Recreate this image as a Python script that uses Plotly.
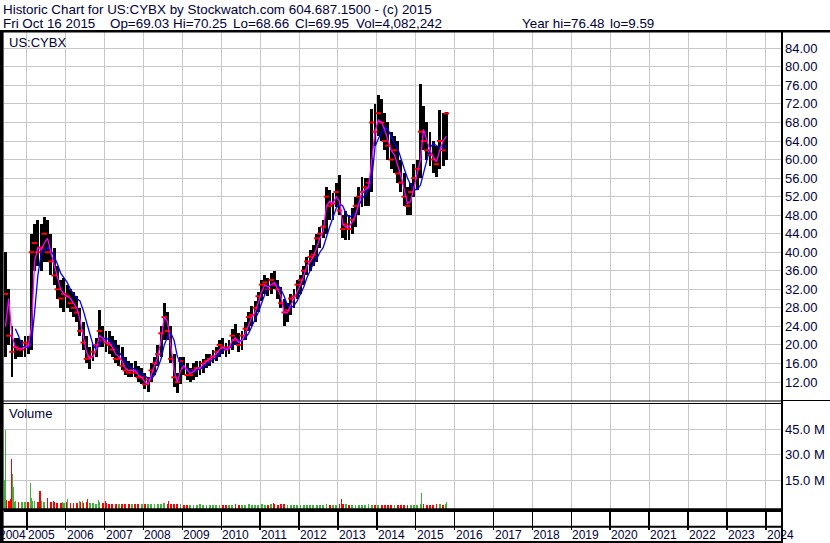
import plotly.graph_objects as go
import pandas as pd

# ---------------- data (monthly resolution) ----------------
MONTHS = [
    "2004-06", "2004-07", "2004-08", "2004-09", "2004-10", "2004-11", "2004-12",
    "2005-01", "2005-02", "2005-03", "2005-04", "2005-05", "2005-06", "2005-07", "2005-08", "2005-09", "2005-10", "2005-11", "2005-12",
    "2006-01", "2006-02", "2006-03", "2006-04", "2006-05", "2006-06", "2006-07", "2006-08", "2006-09", "2006-10", "2006-11", "2006-12",
    "2007-01", "2007-02", "2007-03", "2007-04", "2007-05", "2007-06", "2007-07", "2007-08", "2007-09", "2007-10", "2007-11", "2007-12",
    "2008-01", "2008-02", "2008-03", "2008-04", "2008-05", "2008-06", "2008-07", "2008-08", "2008-09", "2008-10", "2008-11", "2008-12",
    "2009-01", "2009-02", "2009-03", "2009-04", "2009-05", "2009-06", "2009-07", "2009-08", "2009-09", "2009-10", "2009-11", "2009-12",
    "2010-01", "2010-02", "2010-03", "2010-04", "2010-05", "2010-06", "2010-07", "2010-08", "2010-09", "2010-10", "2010-11", "2010-12",
    "2011-01", "2011-02", "2011-03", "2011-04", "2011-05", "2011-06", "2011-07", "2011-08", "2011-09", "2011-10", "2011-11", "2011-12",
    "2012-01", "2012-02", "2012-03", "2012-04", "2012-05", "2012-06", "2012-07", "2012-08", "2012-09", "2012-10", "2012-11", "2012-12",
    "2013-01", "2013-02", "2013-03", "2013-04", "2013-05", "2013-06", "2013-07", "2013-08", "2013-09", "2013-10", "2013-11", "2013-12",
    "2014-01", "2014-02", "2014-03", "2014-04", "2014-05", "2014-06", "2014-07", "2014-08", "2014-09", "2014-10", "2014-11", "2014-12",
    "2015-01", "2015-02", "2015-03", "2015-04", "2015-05", "2015-06", "2015-07", "2015-08", "2015-09", "2015-10",
]

HIGH = [
    40.0, 32.0, 24.0, 21.5, 21.5, 21.0, 22.0,
    22.0, 44.0, 46.0, 47.0, 46.0, 47.7, 47.0, 44.0, 41.0, 37.0, 34.0, 34.5,
    33.0, 32.0, 31.5, 30.5, 28.0, 25.0, 22.0, 19.5, 20.0, 21.5, 27.5, 24.0,
    23.0, 23.0, 22.0, 21.0, 20.0, 19.5, 17.5, 16.5, 16.0, 16.5, 15.5, 15.0,
    14.0, 13.0, 16.0, 17.5, 20.0, 24.0, 29.0, 27.0, 24.0, 18.0, 14.0, 17.5,
    17.5, 16.0, 15.0, 16.0, 16.5, 16.5, 17.0, 18.0, 18.0, 19.0, 19.5, 21.0,
    21.5, 20.5, 21.0, 23.5, 24.5, 22.5, 23.0, 25.0, 27.0, 28.5, 29.5, 31.5,
    34.0, 35.0, 34.5, 35.5, 36.0, 34.0, 32.5, 30.0, 29.0, 31.0, 32.0, 34.0,
    35.0, 37.0, 39.0, 40.5, 41.5, 44.0, 45.5, 47.0, 54.0, 53.4, 52.7, 55.0,
    56.7, 48.0, 49.0, 48.0, 49.5, 52.0, 54.0, 56.3, 56.0, 56.0, 71.0, 72.0,
    73.9, 73.0, 70.0, 68.0, 66.0, 65.0, 64.0, 60.0, 57.0, 54.0, 55.0, 59.0,
    60.0, 76.4, 71.5, 68.0, 66.0, 64.0, 63.0, 70.7, 70.0, 70.25,
]

LOW = [
    17.5, 20.0, 13.0, 17.0, 17.5, 17.5, 17.5,
    18.0, 19.0, 36.0, 37.0, 36.0, 38.0, 38.0, 35.0, 33.0, 30.0, 28.0, 27.0,
    28.0, 27.0, 26.0, 25.0, 22.0, 19.0, 16.0, 14.9, 16.5, 17.5, 19.5, 19.5,
    18.5, 18.0, 17.5, 16.0, 15.5, 14.5, 13.5, 13.0, 13.0, 13.0, 12.0, 11.5,
    10.5, 9.8, 12.0, 13.5, 15.5, 17.5, 21.0, 21.0, 16.0, 11.0, 9.6, 11.5,
    13.5, 12.5, 12.0, 12.5, 13.0, 13.5, 14.0, 15.0, 15.5, 16.0, 16.5, 17.5,
    18.0, 17.5, 18.0, 19.0, 20.0, 18.5, 19.0, 21.0, 23.0, 24.0, 25.0, 27.0,
    29.5, 31.0, 30.5, 31.0, 32.0, 30.0, 28.0, 24.0, 25.0, 26.5, 28.0, 30.0,
    31.0, 33.0, 35.0, 36.0, 37.0, 38.0, 41.0, 43.0, 44.0, 47.0, 47.0, 49.8,
    48.0, 43.0, 42.6, 42.6, 44.0, 45.5, 48.0, 49.8, 50.0, 50.0, 53.0, 63.0,
    65.0, 64.0, 62.0, 60.0, 58.0, 57.0, 55.0, 53.0, 50.0, 48.0, 48.0, 52.0,
    53.5, 56.0, 62.0, 60.0, 58.5, 57.0, 56.3, 58.0, 58.5, 60.0,
]

CLOSE = [
    31.0, 22.0, 18.5, 19.5, 19.0, 19.0, 20.5,
    20.0, 40.0, 42.0, 40.0, 41.0, 44.0, 40.0, 38.0, 35.0, 32.0, 30.0, 31.0,
    30.5, 29.0, 28.0, 27.0, 23.0, 20.5, 17.0, 17.5, 18.5, 20.0, 23.0, 21.0,
    20.5, 20.0, 19.0, 17.0, 17.0, 15.5, 14.5, 14.0, 14.5, 14.0, 13.0, 13.0,
    11.5, 12.5, 14.5, 16.0, 18.0, 22.5, 26.0, 23.0, 17.0, 13.0, 12.0, 16.5,
    15.0, 13.5, 13.5, 14.5, 15.0, 15.0, 16.0, 16.5, 17.0, 17.5, 18.5, 20.0,
    19.5, 19.0, 19.5, 22.0, 21.0, 20.0, 22.0, 23.5, 26.0, 26.5, 28.0, 30.5,
    33.0, 33.5, 32.0, 34.0, 33.0, 32.0, 29.0, 27.0, 27.5, 30.0, 30.5, 33.0,
    34.0, 36.0, 38.0, 39.0, 39.5, 43.0, 44.0, 45.5, 52.0, 50.0, 50.5, 53.0,
    49.0, 45.0, 46.0, 45.0, 47.0, 50.0, 52.0, 53.0, 54.0, 55.0, 68.0, 66.0,
    70.0, 68.0, 64.0, 63.0, 60.0, 62.0, 57.0, 55.0, 52.0, 50.0, 53.0, 56.0,
    58.0, 66.0, 64.0, 62.0, 61.0, 60.0, 59.0, 64.0, 62.0, 69.95,
]

MA_FAST = [
    24.0, 30.0, 22.0, 19.5, 19.3, 19.2, 19.5,
    19.8, 24.0, 38.0, 41.0, 40.5, 42.0, 43.0, 40.0, 37.5, 35.0, 32.0, 31.0,
    30.5, 30.0, 29.0, 28.0, 25.5, 22.0, 18.5, 17.0, 17.5, 19.0, 22.0, 21.5,
    20.5, 20.5, 19.5, 18.0, 17.5, 16.5, 15.0, 14.5, 14.5, 14.5, 13.5, 13.0,
    12.0, 11.5, 13.5, 15.5, 17.5, 21.0, 26.0, 25.0, 20.0, 14.5, 12.0, 14.5,
    15.5, 14.5, 13.8, 14.2, 15.0, 15.0, 15.8, 16.5, 17.0, 17.5, 18.0, 19.0,
    19.5, 19.0, 19.3, 21.0, 21.5, 20.5, 21.0, 22.5, 24.5, 26.0, 27.0, 29.0,
    31.5, 33.0, 32.5, 33.0, 33.5, 32.0, 30.5, 27.0, 27.0, 28.5, 30.0, 31.5,
    33.0, 35.0, 37.0, 38.0, 39.0, 41.0, 43.0, 44.5, 50.0, 51.0, 50.5, 52.0,
    51.0, 46.0, 45.5, 45.5, 46.5, 48.0, 50.5, 53.0, 53.5, 54.0, 60.0, 66.0,
    68.5, 68.0, 66.5, 64.0, 62.0, 61.0, 59.0, 56.5, 53.5, 50.5, 51.0, 54.0,
    56.5, 60.0, 66.5, 64.0, 62.0, 60.5, 59.5, 62.0, 64.0, 65.0,
]

MA_SLOW = [
    None, None, None, 23.5, 22.0, 19.8, 19.5,
    19.5, 20.5, 27.0, 35.0, 39.5, 40.5, 41.0, 40.5, 39.0, 37.5, 35.5, 34.5,
    33.5, 32.0, 31.0, 30.0, 29.5, 27.5, 25.0, 22.5, 20.0, 19.0, 20.0, 21.3,
    21.5, 21.0, 20.5, 19.5, 18.5, 17.5, 16.5, 15.5, 15.0, 14.8, 14.3, 13.8,
    13.2, 12.8, 12.7, 13.5, 15.0, 17.0, 20.0, 21.8, 22.5, 21.0, 17.5, 16.0,
    15.0, 14.7, 14.5, 14.4, 14.5, 14.8, 15.2, 15.8, 16.3, 16.8, 17.3, 18.0,
    18.8, 19.2, 19.3, 19.8, 20.5, 21.0, 21.0, 21.5, 22.5, 24.0, 25.5, 27.0,
    29.0, 31.0, 32.3, 33.0, 33.3, 33.0, 32.0, 30.5, 28.5, 28.0, 28.5, 29.5,
    31.0, 32.5, 34.5, 36.0, 37.5, 38.5, 40.0, 41.0, 43.5, 45.5, 47.5, 49.5,
    50.5, 50.0, 48.5, 47.5, 48.0, 48.5, 50.0, 51.5, 52.5, 53.5, 56.0, 62.8,
    64.5, 66.0, 67.0, 66.5, 65.0, 63.5, 62.5, 60.0, 58.0, 56.0, 54.5, 53.5,
    53.5, 54.5, 57.0, 60.0, 62.5, 63.5, 63.0, 62.5, 62.5, 63.0,
]

# typical daily volume per month, millions of shares
VOL_BASE_M = [
    3.5, 3.0, 3.5, 2.5, 2.0, 2.0, 2.5,
    2.5, 3.5, 3.0, 2.5, 3.0, 2.5, 3.0, 2.0, 2.0, 1.8, 1.5, 1.8,
    2.0, 1.5, 1.5, 1.8, 2.0, 1.8, 2.2, 1.8, 1.5, 1.2, 2.0, 1.5,
    1.5, 1.2, 1.0, 1.2, 1.0, 1.0, 0.9, 1.0, 0.8, 1.0, 0.9, 0.8,
    1.2, 1.0, 0.9, 0.8, 0.9, 1.2, 1.5, 1.2, 1.0, 1.0, 0.8, 0.8,
    0.7, 0.6, 0.7, 0.6, 0.6, 0.8, 0.6, 0.7, 0.6, 0.6, 0.7, 0.6,
    0.6, 0.7, 0.6, 0.7, 0.8, 0.6, 0.6, 0.7, 0.8, 0.7, 0.6, 0.7,
    0.8, 0.7, 0.6, 0.8, 0.9, 0.7, 0.8, 1.0, 0.7, 0.6, 0.6, 0.7,
    0.6, 0.7, 0.6, 0.6, 0.7, 0.6, 0.6, 0.7, 0.8, 0.6, 0.6, 0.7,
    0.9, 1.0, 0.8, 0.6, 0.6, 0.6, 0.7, 0.6, 0.6, 0.9, 0.7, 0.6,
    0.7, 0.6, 0.6, 0.7, 0.6, 0.6, 0.7, 0.6, 0.6, 0.7, 0.6, 0.6,
    0.6, 1.2, 1.0, 0.7, 0.6, 0.6, 0.8, 0.9, 0.7, 1.0,
]

# notable single-day volume spikes
SPIKE_DATES = [
    "2004-06-08", "2004-06-15", "2004-06-24", "2004-08-05", "2004-08-10", "2004-08-16",
    "2004-08-26", "2004-09-15", "2005-02-04", "2005-02-10", "2005-02-25", "2005-05-05",
    "2005-07-18", "2005-09-08", "2005-12-05", "2006-01-18", "2006-05-10", "2006-06-12",
    "2006-07-25", "2006-11-06", "2007-01-12", "2008-08-20", "2011-05-10", "2013-02-01",
    "2015-02-26", "2015-10-14",
]
SPIKE_M = [
    15.0, 44.4, 3.2, 4.0, 27.4, 18.5,
    11.0, 3.0, 13.4, 4.5, 3.0, 8.7,
    4.5, 2.7, 2.5, 3.8, 3.0, 2.8,
    3.8, 3.2, 2.7, 2.6, 1.6, 4.0,
    7.7, 2.5,
]
SPIKE_UP = [
    True, True, False, False, False, True,
    True, True, True, True, True, False,
    False, False, True, True, True, True,
    False, True, False, False, False, False,
    True, True,
]

PRICE_TICKS = [12, 16, 20, 24, 28, 32, 36, 40, 44, 48, 52, 56, 60, 64, 68, 72, 76, 80, 84]
PRICE_TICK_TEXT = ["12.00", "16.00", "20.00", "24.00", "28.00", "32.00", "36.00", "40.00", "44.00",
                   "48.00", "52.00", "56.00", "60.00", "64.00", "68.00", "72.00", "76.00", "80.00", "84.00"]
VOL_TICKS = [15e6, 30e6, 45e6]
VOL_TICK_TEXT = ["15.0 M", "30.0 M", "45.0 M"]
YEAR_LABELS = ["2004", "2005", "2006", "2007", "2008", "2009", "2010", "2011", "2012", "2013", "2014",
               "2015", "2016", "2017", "2018", "2019", "2020", "2021", "2022", "2023", "2024"]

HEADER_1 = "Historic Chart for US:CYBX by Stockwatch.com 604.687.1500 - (c) 2015"
HEADER_2 = ["Fri Oct 16 2015", "Op=69.03", "Hi=70.25", "Lo=68.66", "Cl=69.95",
            "Vol=4,082,242", "Year hi=76.48", "lo=9.59"]

# ---------------- geometry ----------------
W, H = 830, 543
ML, MR, MT, MB = 4, 49, 32, 34
PW, PH = W - ML - MR, H - MT - MB
FONT = "Arial, 'Liberation Sans', sans-serif"
TXT = "#00003a"
GRID = "#c8c8c8"
GREEN = "#3cb43c"
RED = "#ff0000"
DAY = 86400000
VOL_FLOOR = -1.88e6


def px_x(px):
    return (px - ML) / PW


def px_y(py):
    return (H - MB - py) / PH


mid = pd.to_datetime(MONTHS, format="%Y-%m") + pd.Timedelta(days=14)

fig = go.Figure()

# volume (baseline monthly + spikes)
vol_colors = [GREEN if i == 0 or CLOSE[i] >= CLOSE[i - 1] else RED for i in range(len(CLOSE))]
fig.add_trace(go.Bar(
    x=mid, y=[v * 1e6 - VOL_FLOOR for v in VOL_BASE_M], base=VOL_FLOOR,
    width=17 * DAY, marker=dict(color=vol_colors, line=dict(width=0)),
    xaxis="x", yaxis="y", hoverinfo="skip"))
fig.add_trace(go.Bar(
    x=pd.to_datetime(SPIKE_DATES), y=[v * 1e6 - VOL_FLOOR for v in SPIKE_M], base=VOL_FLOOR,
    width=10 * DAY, marker=dict(color=[GREEN if u else RED for u in SPIKE_UP], line=dict(width=0)),
    xaxis="x", yaxis="y", hoverinfo="skip"))

# price high-low bars
fig.add_trace(go.Bar(
    x=mid, y=[h - l for h, l in zip(HIGH, LOW)], base=LOW,
    width=27 * DAY, marker=dict(color="black", line=dict(width=0)),
    xaxis="x", yaxis="y2", hoverinfo="skip"))
# close ticks
fig.add_trace(go.Scatter(
    x=mid, y=CLOSE, mode="markers",
    marker=dict(symbol="line-ew", size=4, line=dict(color=RED, width=2)),
    xaxis="x", yaxis="y2", hoverinfo="skip"))
# moving averages
fig.add_trace(go.Scatter(x=mid, y=MA_SLOW, mode="lines", line=dict(color="#0000ff", width=1.3),
                         xaxis="x", yaxis="y2", connectgaps=False, hoverinfo="skip"))
fig.add_trace(go.Scatter(x=mid, y=MA_FAST, mode="lines", line=dict(color="#ff00ff", width=1.3),
                         xaxis="x", yaxis="y2", hoverinfo="skip"))

axis_font = dict(family=FONT, size=13, color=TXT)

fig.update_layout(
    width=W, height=H,
    margin=dict(l=ML, r=MR, t=MT, b=MB, pad=0),
    paper_bgcolor="white", plot_bgcolor="white",
    showlegend=False, barmode="overlay", bargap=0, hovermode=False,
    xaxis=dict(type="date", range=["2004-06-01", "2024-05-23"],
               tick0="2005-01-01", dtick="M12",
               showgrid=True, gridcolor=GRID, gridwidth=1,
               showticklabels=False, ticks="outside", ticklen=18, tickwidth=1.5, tickcolor="black",
               showline=True, linecolor="black", linewidth=2.5, zeroline=False, anchor="y"),
    yaxis=dict(domain=[0, px_y(403.5)], range=[VOL_FLOOR, 60.2e6], side="right", anchor="x",
               tickvals=VOL_TICKS, ticktext=VOL_TICK_TEXT, tickfont=axis_font, ticks="",
               ticklabelstandoff=3,
               showgrid=True, gridcolor=GRID, gridwidth=1, zeroline=False, showline=False),
    yaxis2=dict(domain=[px_y(401), 1], range=[7.9, 87.52], side="right", anchor="x",
                tickvals=PRICE_TICKS, ticktext=PRICE_TICK_TEXT, tickfont=axis_font, ticks="",
                ticklabelstandoff=3,
                showgrid=True, gridcolor=GRID, gridwidth=1, zeroline=False, showline=False),
)

# frame lines
def hline(py, x0, x1, w):
    return dict(type="line", xref="paper", yref="paper", x0=px_x(x0), x1=px_x(x1),
                y0=px_y(py), y1=px_y(py), line=dict(color="black", width=w), layer="above")


def vline(px, y0, y1, w):
    return dict(type="line", xref="paper", yref="paper", x0=px_x(px), x1=px_x(px),
                y0=px_y(y0), y1=px_y(y1), line=dict(color="black", width=w), layer="above")


shapes = [
    hline(31.2, 0, 830, 2.5),
    hline(401.0, 0, 782, 1),
    hline(403.5, 0, 782, 1),
    hline(400.5, 782, 830, 1),
    hline(509.5, 0, 782, 2.5),
    hline(526.8, 0, 782, 2),
    hline(542.0, 0, 782, 2),
    vline(1.8, 31, 543, 3.6),
    vline(782.0, 31, 543, 2),
]
fig.update_layout(shapes=shapes)

ann = []
ann.append(dict(text=HEADER_1, xref="paper", yref="paper", x=px_x(1), y=px_y(0),
                xanchor="left", yanchor="top", showarrow=False,
                font=dict(family=FONT, size=13.4, color=TXT)))
h2_x = [1, 108, 171, 231, 293, 354, 520, 608]
for t, xp in zip(HEADER_2, h2_x):
    ann.append(dict(text=t, xref="paper", yref="paper", x=px_x(xp), y=px_y(14),
                    xanchor="left", yanchor="top", showarrow=False,
                    font=dict(family=FONT, size=13.4, color=TXT)))
ann.append(dict(text="US:CYBX", xref="paper", yref="paper", x=px_x(7), y=px_y(42),
                xanchor="left", yanchor="middle", showarrow=False,
                font=dict(family=FONT, size=13, color=TXT)))
ann.append(dict(text="Volume", xref="paper", yref="paper", x=px_x(7), y=px_y(413),
                xanchor="left", yanchor="middle", showarrow=False,
                font=dict(family=FONT, size=13, color=TXT)))
for i, lab in enumerate(YEAR_LABELS):
    if i == 0:
        ann.append(dict(text=lab, xref="x", yref="paper", x=YEAR_LABELS[1] + "-01-01", y=px_y(534.5),
                        xanchor="right", yanchor="middle", showarrow=False, xshift=1,
                        font=dict(family=FONT, size=12, color=TXT)))
    else:
        ann.append(dict(text=lab, xref="x", yref="paper", x=lab + "-01-01", y=px_y(534.5),
                        xanchor="left", yanchor="middle", showarrow=False, xshift=-1,
                        font=dict(family=FONT, size=12, color=TXT)))
fig.update_layout(annotations=ann)

fig.write_html("out.html", config={"displayModeBar": False, "staticPlot": True},
               post_script="document.body.style.margin='0';document.body.style.overflow='hidden';")
